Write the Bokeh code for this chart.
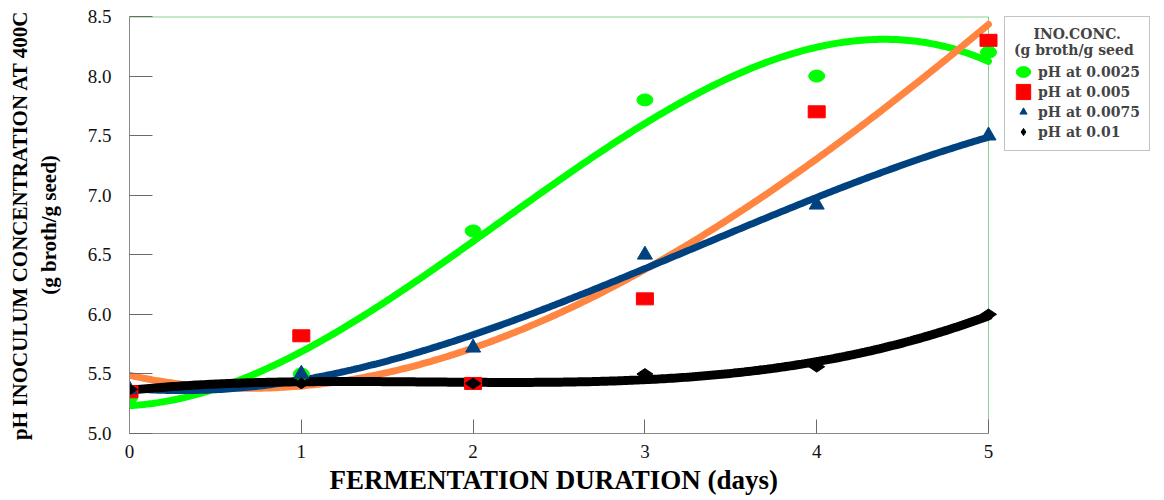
import numpy as np
from bokeh.plotting import figure
from bokeh.models import Range1d, Legend, LegendItem, NumeralTickFormatter, Title
from bokeh.embed import file_html
from bokeh.resources import INLINE

# Fermentation duration (days)
days = [0, 1, 2, 3, 4, 5]

# pH readings for each inoculum concentration (g broth / g seed)
ph_0025 = [5.30, 5.50, 6.70, 7.80, 8.00, 8.20]
ph_005 = [5.35, 5.82, 5.42, 6.13, 7.70, 8.30]
ph_0075 = [5.37, 5.50, 5.72, 6.50, 6.92, 7.50]
ph_01 = [5.37, 5.42, 5.42, 5.50, 5.56, 6.00]

series_labels = ["pH at 0.0025", "pH at 0.005", "pH at 0.0075", "pH at 0.01"]
x_ticks = [0, 1, 2, 3, 4, 5]
y_ticks = [5.0, 5.5, 6.0, 6.5, 7.0, 7.5, 8.0, 8.5]

SERIF = "Liberation Serif"
WIDE_SERIF = "DejaVu Serif"
NB = "\u00a0"

# the data box is 859 px wide; the frame runs on to the page edge so the
# legend and the edge markers at day 5 are not cut off
DATA_W = 859
FRAME_W = 1035
x_end = 5 * FRAME_W / DATA_W

p = figure(
    frame_width=FRAME_W, frame_height=417,
    x_range=Range1d(0, x_end), y_range=Range1d(5, 8.5),
    output_backend="svg", toolbar_location=None,
    min_border_left=129, min_border_right=0,
    min_border_top=16, min_border_bottom=67,
)
p.grid.visible = False
p.outline_line_color = None
p.background_fill_color = "white"
p.border_fill_color = "white"

# top and right edges of the data box
p.segment(x0=[0, 5], y0=[8.5, 5.0], x1=[5, 5], y1=[8.5, 8.5],
          line_color="#8ccf8c", line_width=[2, 1])

# axes: ticks drawn inward, serif labels
for ax in (p.xaxis[0], p.yaxis[0]):
    ax.axis_line_color = "#8a8a8a"
    ax.major_tick_line_color = "#6a6a6a"
    ax.minor_tick_line_color = "#6a6a6a"
    ax.major_tick_out = 0
    ax.minor_tick_out = 0
    ax.major_label_text_font = SERIF
    ax.major_label_text_font_size = "19px"
    ax.major_label_text_color = "#111111"
    ax.axis_label_text_font = SERIF
    ax.axis_label_text_font_style = "bold"
    ax.axis_label_text_color = "black"

p.xaxis.bounds = (0, 5)
p.xaxis.ticker = x_ticks
p.xaxis.ticker.num_minor_ticks = 4
p.xaxis.major_tick_in = 14
p.xaxis.minor_tick_in = 7
p.xaxis.major_label_standoff = 11
p.xaxis.formatter = NumeralTickFormatter(format="0")

# x axis title, centred under the data box rather than the whole frame
x_title = Title(
    text="FERMENTATION DURATION (days)", align="left", offset=200,
    vertical_align="bottom",
    text_font=SERIF, text_font_style="bold", text_font_size="27px",
    text_color="black", standoff=4,
)
p.add_layout(x_title, "below")

p.yaxis.ticker = y_ticks
p.yaxis.ticker.num_minor_ticks = 2
p.yaxis.major_tick_in = 23
p.yaxis.minor_tick_in = 11
p.yaxis.major_label_standoff = 18
p.yaxis.formatter = NumeralTickFormatter(format="0.0")
p.yaxis.axis_label = "pH INOCULUM CONCENTRATION AT 400C\n(g broth/g seed)"
p.yaxis.axis_label_text_font_size = "21px"
p.yaxis.axis_label_standoff = 24

# third-order polynomial trend lines through each series
xs_fit = np.linspace(0, 5, 300)
line_specs = [
    (ph_0025, "#00ff00", 7),
    (ph_005, "#ff8540", 7),
    (ph_0075, "#00427f", 7),
    (ph_01, "#000000", 9),
]
for vals, color, lw in line_specs:
    coef = np.polyfit(days, vals, 3)
    p.line(xs_fit, np.polyval(coef, xs_fit), line_color=color, line_width=lw,
           line_cap="round")

# data markers
r1 = p.ellipse(days, ph_0025, width=16, height=12, width_units="screen",
               height_units="screen", fill_color="#00ff00", line_color="#00ff00")
r2 = p.rect(days, ph_005, width=17, height=12, width_units="screen",
            height_units="screen", fill_color="#ff0000", line_color="#ff0000")
r3 = p.scatter(days, ph_0075, marker="triangle", size=15,
               fill_color="#00427f", line_color="#00427f")
r4 = p.scatter(days, ph_01, marker="diamond", size=16, angle=np.pi / 2,
               fill_color="black", line_color="black")

legend = Legend(
    items=[LegendItem(label=lab, renderers=[r])
           for lab, r in zip(series_labels, [r1, r2, r3, r4])],
    location=(875, 282),
    title=NB * 4 + "INO.CONC.\n(g broth/g seed",
    title_text_font=WIDE_SERIF, title_text_font_style="bold",
    title_text_font_size="14px", title_standoff=4,
    label_text_font=WIDE_SERIF, label_text_font_style="bold",
    label_text_font_size="14px", label_standoff=6,
    label_height=19, glyph_height=19, glyph_width=18,
    spacing=1, padding=9, margin=0,
    border_line_color="#888888", border_line_width=1,
    background_fill_color="white",
)
p.add_layout(legend, "center")

open("out.html", "w").write(file_html(p, INLINE))
